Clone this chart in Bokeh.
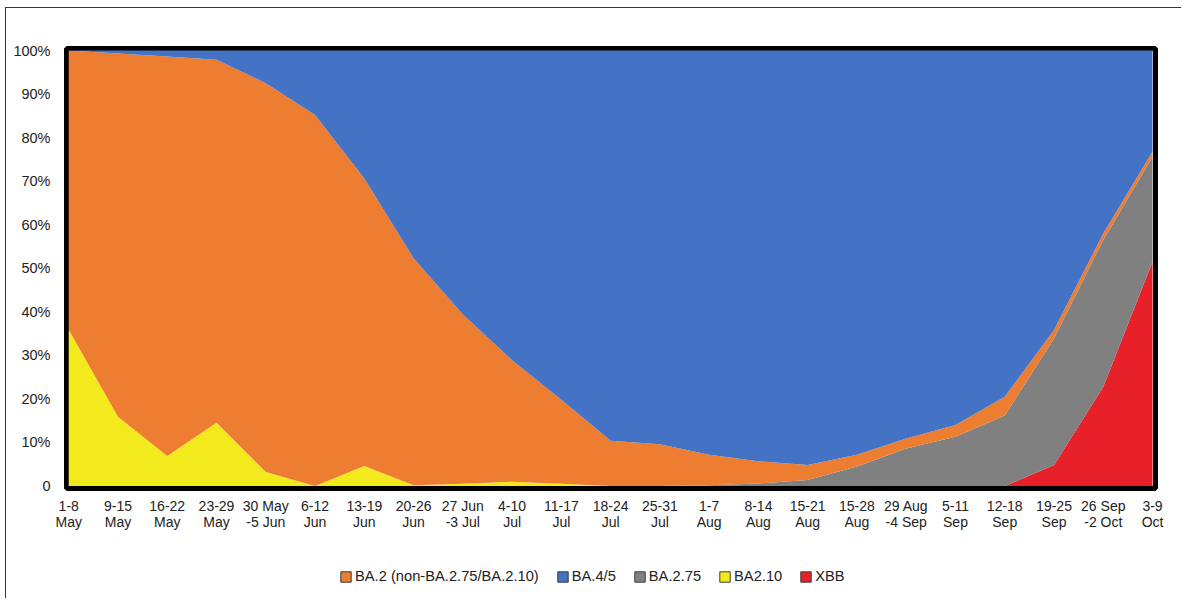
from bokeh.plotting import figure
from bokeh.layouts import column
from bokeh.models import (ColumnDataSource, FixedTicker, Legend, LegendItem, Range1d)
from bokeh.transform import stack
from bokeh.embed import file_html
from bokeh.resources import INLINE

weeks = ["1-8\nMay", "9-15\nMay", "16-22\nMay", "23-29\nMay", "30 May\n-5 Jun", "6-12\nJun",
         "13-19\nJun", "20-26\nJun", "27 Jun\n-3 Jul", "4-10\nJul", "11-17\nJul", "18-24\nJul",
         "25-31\nJul", "1-7\nAug", "8-14\nAug", "15-21\nAug", "15-28\nAug", "29 Aug\n-4 Sep",
         "5-11\nSep", "12-18\nSep", "19-25\nSep", "26 Sep\n-2 Oct", "3-9\nOct"]

xbb = [0, 0, 0, 0, 0, 0, 0, 0, 0, 0, 0, 0, 0, 0, 0, 0, 0, 0, 0, 0, 4.8, 22.8, 51.5]
ba210 = [35.9, 15.9, 6.9, 14.5, 3.2, 0, 4.6, 0.2, 0.5, 1.0, 0.5, 0, 0, 0, 0, 0, 0, 0, 0, 0, 0, 0, 0]
ba275 = [0, 0, 0, 0, 0, 0, 0, 0, 0, 0, 0, 0, 0, 0.2, 0.6, 1.4, 4.5, 8.6, 11.3, 16.2, 29.1, 33.7, 24.1]
ba2 = [64.1, 83.4, 91.7, 83.4, 89.3, 85.2, 66.0, 52.1, 38.9, 27.9, 19.3, 10.4, 9.6, 7.0, 5.1, 3.4,
       2.7, 2.3, 2.7, 4.3, 1.9, 1.5, 1.2]
ba45 = [0, 0.7, 1.4, 2.1, 7.5, 14.8, 29.4, 47.7, 60.6, 71.1, 80.2, 89.6, 90.4, 92.8, 94.3, 95.2,
        92.8, 89.1, 86.0, 79.5, 64.2, 42.0, 23.2]

series = ["xbb", "ba210", "ba275", "ba2", "ba45"]
names = {"xbb": "XBB", "ba210": "BA2.10", "ba275": "BA.2.75",
         "ba2": "BA.2 (non-BA.2.75/BA.2.10)", "ba45": "BA.4/5"}
colors = {"xbb": "#E8202A", "ba210": "#F2EA1C", "ba275": "#808080",
          "ba2": "#ED7D31", "ba45": "#4472C4"}

data = {"x": list(range(len(weeks)))}
for key, vals in zip(series, [xbb, ba210, ba275, ba2, ba45]):
    data[key] = [v / 100 for v in vals]
source = ColumnDataSource(data)

p = figure(width=1175, height=545, output_backend="svg", toolbar_location=None,
           x_range=Range1d(-0.045, len(weeks) - 1 + 0.06),
           y_range=Range1d(-0.0057, 1.0046),
           min_border_left=60, min_border_right=26, min_border_top=40, min_border_bottom=65)

for i, key in enumerate(series):
    p.varea(x="x", y1=stack(*series[:i]), y2=stack(*series[:i + 1]), source=source,
            fill_color=colors[key], fill_alpha=1.0)

p.outline_line_color = "black"
p.outline_line_width = 5
p.xgrid.visible = False
p.ygrid.visible = False
p.background_fill_color = "white"
p.border_fill_color = "white"

# y axis
p.yaxis.ticker = FixedTicker(ticks=[i / 10 for i in range(11)])
p.yaxis.major_label_overrides = {i / 10: ("0" if i == 0 else f"{i * 10}%") for i in range(11)}
p.yaxis.axis_line_color = None
p.yaxis.major_tick_line_color = None
p.yaxis.minor_tick_line_color = None
p.yaxis.major_label_standoff = 10
p.yaxis.major_label_text_font = "Liberation Sans"
p.yaxis.major_label_text_font_size = "14.5px"
p.yaxis.major_label_text_color = "#222222"

# x axis
p.xaxis.ticker = FixedTicker(ticks=list(range(len(weeks))))
p.xaxis.major_label_overrides = {i: w for i, w in enumerate(weeks)}
p.xaxis.axis_line_color = None
p.xaxis.major_tick_line_color = None
p.xaxis.minor_tick_line_color = None
p.xaxis.major_label_standoff = 3
p.xaxis.major_label_text_font = "Liberation Sans"
p.xaxis.major_label_text_font_size = "14px"
p.xaxis.major_label_text_color = "#222222"
p.xaxis.major_label_text_line_height = 1.0

# legend strip below the chart (frame aligned with the chart's frame by the column)
lg = figure(width=1175, height=45, output_backend="svg", toolbar_location=None,
            x_range=Range1d(0, 1), y_range=Range1d(0, 1),
            min_border_left=60, min_border_right=26, min_border_top=0, min_border_bottom=0)
lg.axis.visible = False
lg.xgrid.visible = False
lg.ygrid.visible = False
lg.outline_line_color = None
lg.background_fill_color = "white"
lg.border_fill_color = "white"

order = ["ba2", "ba45", "ba275", "ba210", "xbb"]
items = []
for key in order:
    # legend swatch proxy, placed outside the visible range
    r = lg.rect(x=[-5], y=[-5], width=1, height=1, fill_color=colors[key],
                line_color="#3a3a3a", line_width=1)
    items.append(LegendItem(label=names[key], renderers=[r]))

legend = Legend(items=items, orientation="horizontal", location=(273, 14),
                glyph_width=13, glyph_height=13, label_height=14, label_standoff=3,
                spacing=17, padding=0, margin=0,
                border_line_color=None, background_fill_alpha=0,
                label_text_font="Liberation Sans", label_text_font_size="14.7px",
                label_text_color="#222222")
lg.add_layout(legend, "center")

layout = column(p, lg, spacing=0)
layout.margin = (7, 0, 0, 5)
layout.styles = {"border-top": "1px solid #333333", "border-left": "1px solid #333333"}

open("out.html", "w").write(file_html(layout, INLINE))
